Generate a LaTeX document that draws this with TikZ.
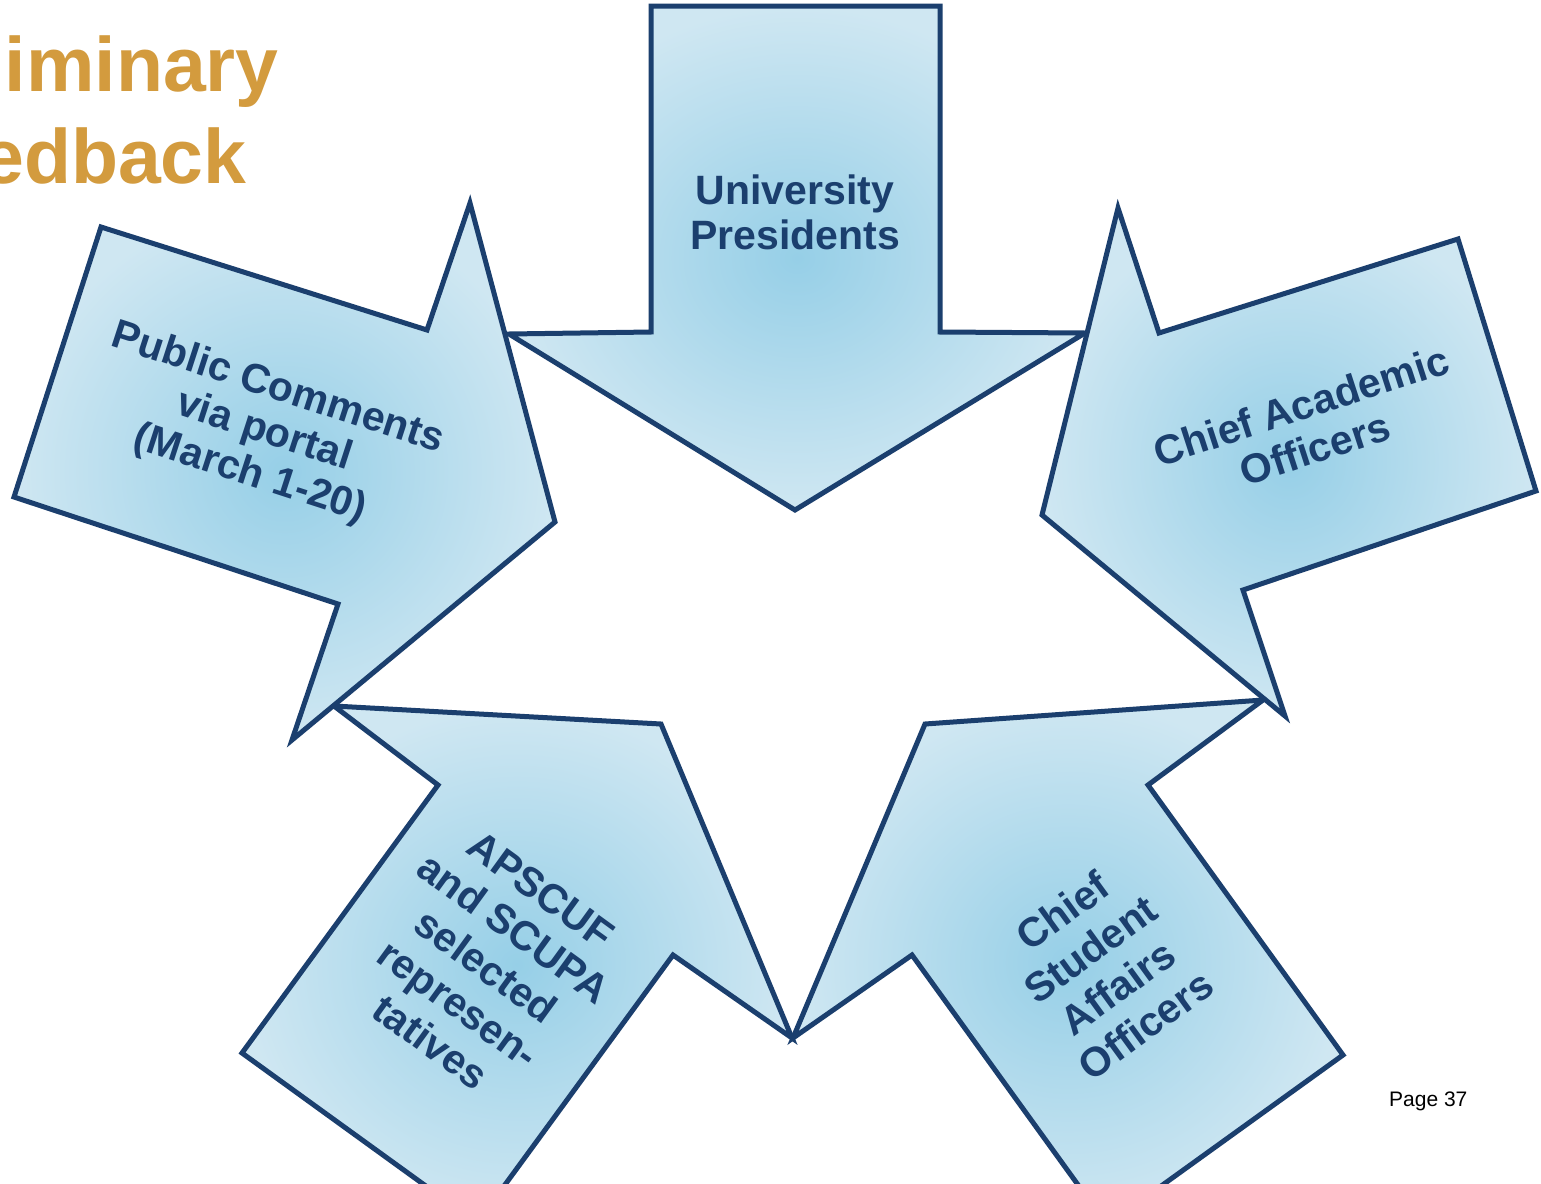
\documentclass[tikz,border=0pt]{standalone}
\usepackage{fontspec}
\setmainfont{Liberation Sans}
\definecolor{arrline}{RGB}{27,63,110}
\definecolor{titlegold}{RGB}{211,155,62}
\definecolor{bluein}{RGB}{150,207,231}
\definecolor{blueout}{RGB}{207,231,242}
\begin{document}
\begin{tikzpicture}[x=1pt,y=-1pt,
  arrowbody/.style={draw=arrline, line width=5pt, line join=miter, inner color=bluein, outer color=blueout},
  arrtext/.style={text=arrline, align=center, font=\fontsize{41}{45}\selectfont\bfseries, inner sep=0pt},
  arrtextwide/.style={arrtext, font=\fontsize{41}{47}\selectfont\bfseries},
  titletext/.style={text=titlegold, font=\fontsize{77}{92}\selectfont\bfseries, anchor=base, inner sep=0pt}]
\useasboundingbox (0,0) rectangle (1541,1183);
\fill[white] (0,0) rectangle (1541,1183);
\clip (0,0) rectangle (1541,1183);
% title (cut off at the left edge)
\node[titletext] (title1) at (69,91) {Preliminary};
\node[titletext] (title2) at (69,183) {Feedback};
% arrows
\path[arrowbody] (651,6) -- (940,6) -- (940,332) -- (1085,333) -- (795,510) -- (509,334) -- (651,332) -- cycle;
\path[arrowbody] (925,724) -- (1263,700) -- (1148,785) -- (1343,1055) -- (1107,1225) -- (912,955) -- (793,1038) -- cycle;
\path[arrowbody] (242,1053) -- (438,785) -- (334,706) -- (661,724) -- (792,1038) -- (673,955) -- (477,1223) -- cycle;
\path[arrowbody] (101,227) -- (427,330) -- (470,203) -- (555,522) -- (292,740) -- (338,604) -- (14,497) -- cycle;
\path[arrowbody] (1118,208) -- (1159,333) -- (1458,239) -- (1536,491) -- (1243,590) -- (1285,716) -- (1042,515) -- cycle;
% labels
\node[arrtext] (tpres) at (795,212) {University\\Presidents};
\node[arrtext, rotate=-18] (tpublic) at (264,432) {Public Comments\\via portal\\(March 1-20)};
\node[arrtext, rotate=18] (tacad) at (1308,427) {Chief Academic\\Officers};
\node[arrtextwide, rotate=-36] (tunion) at (486,966) {APSCUF\\and SCUPA\\selected\\represen-\\tatives};
\node[arrtextwide, rotate=36] (tstud) at (1104,968) {Chief\\Student\\Affairs\\Officers};
\node[anchor=base west, font=\fontsize{21}{24}\selectfont, inner sep=0pt] (page) at (1389,1106) {Page 37};
\end{tikzpicture}
\end{document}
